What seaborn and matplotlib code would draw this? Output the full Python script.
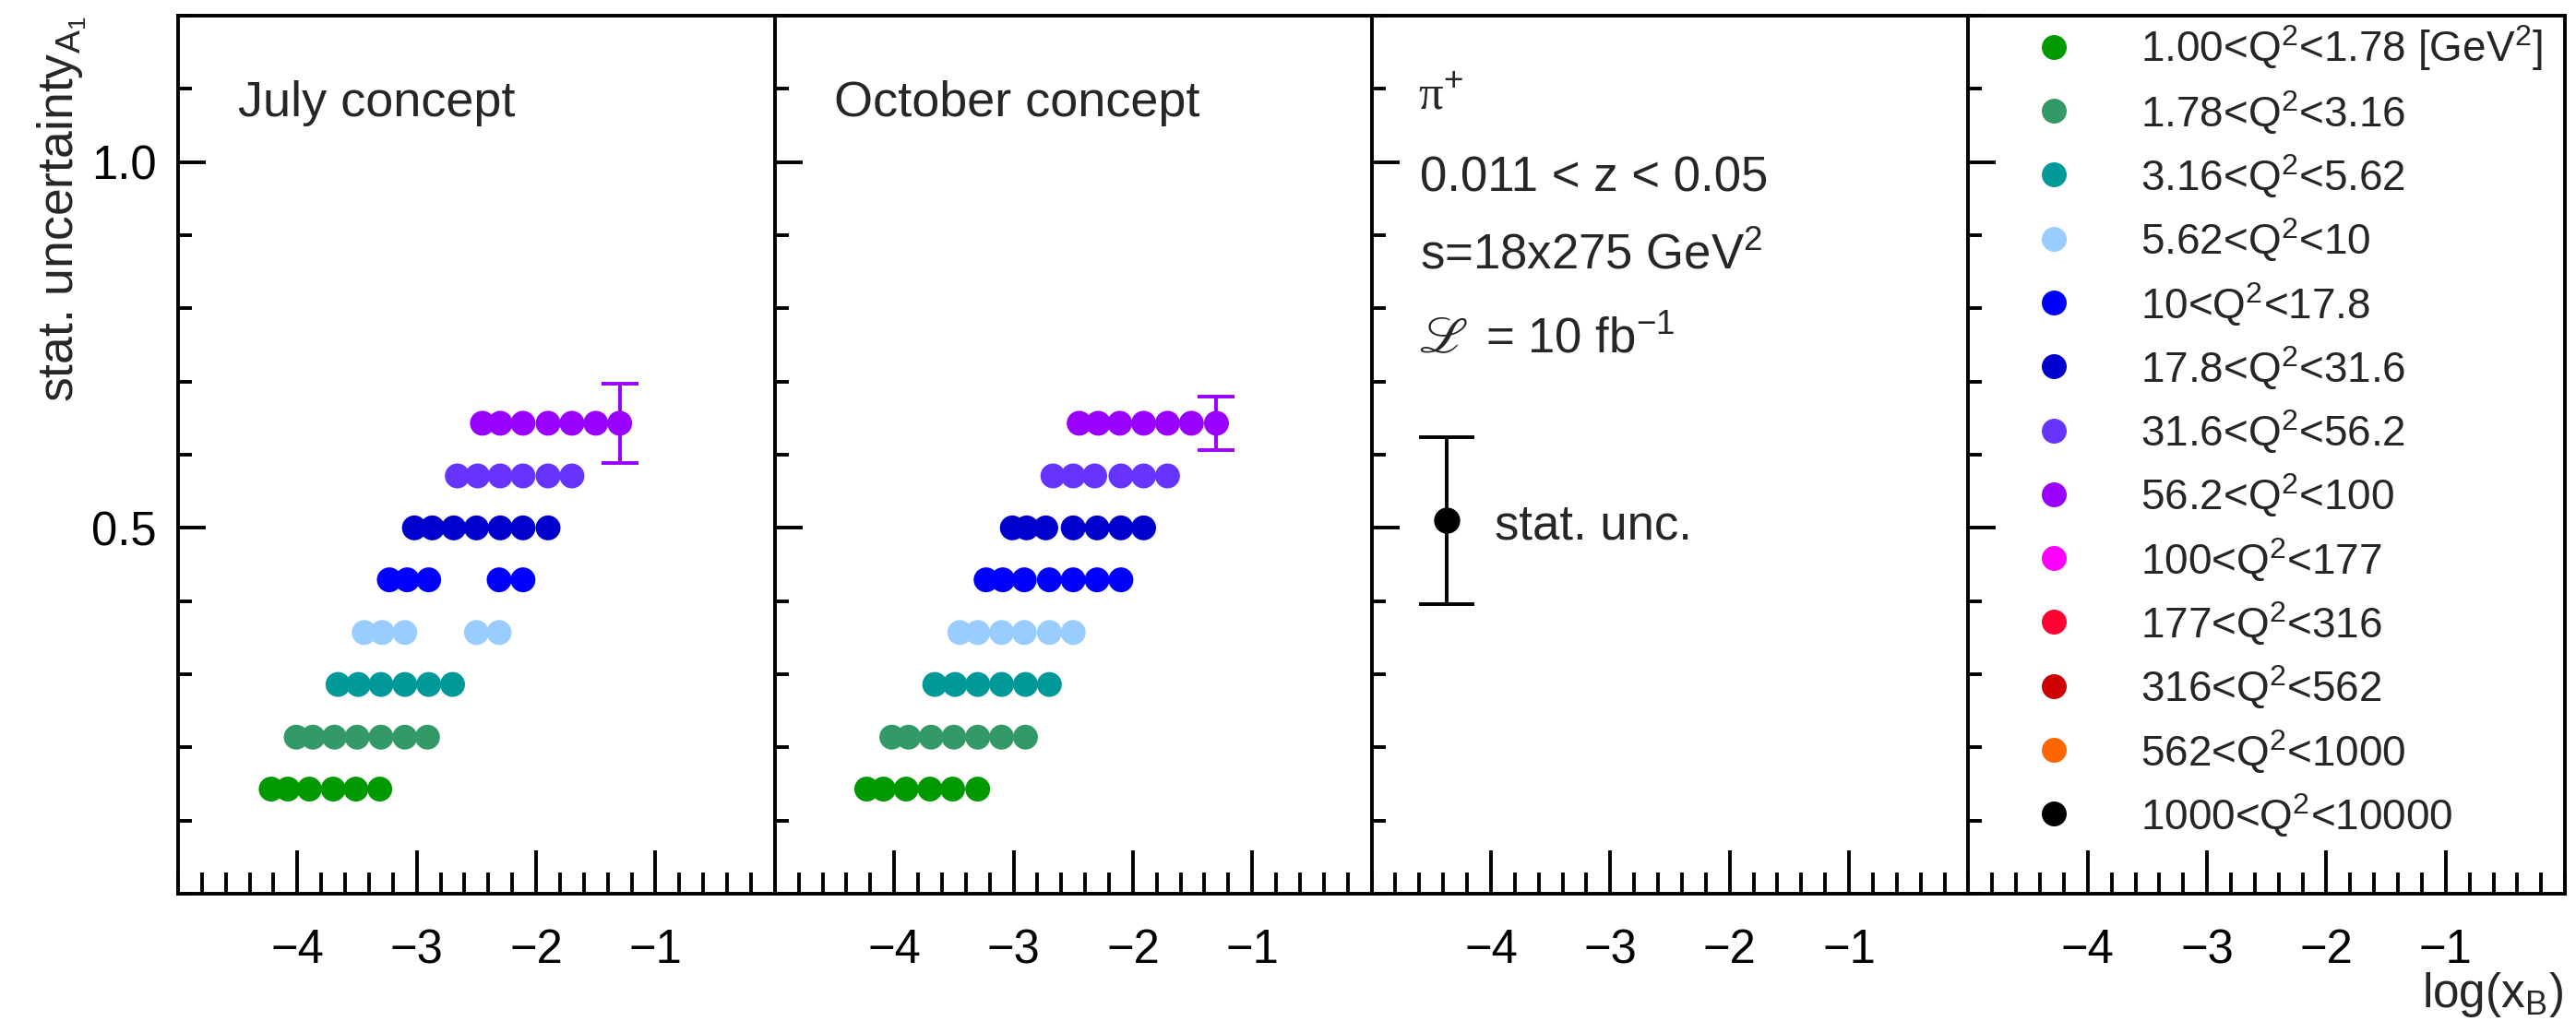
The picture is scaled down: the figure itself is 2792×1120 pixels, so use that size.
import pandas as pd
import matplotlib
matplotlib.use("Agg")
import matplotlib.pyplot as plt
from matplotlib.ticker import MultipleLocator, FixedLocator
import seaborn as sns

# Q^2 bins (legend)
q2_labels = [
    r"1.00<Q$^{2}$<1.78 [GeV$^{2}$]",
    r"1.78<Q$^{2}$<3.16",
    r"3.16<Q$^{2}$<5.62",
    r"5.62<Q$^{2}$<10",
    r"10<Q$^{2}$<17.8",
    r"17.8<Q$^{2}$<31.6",
    r"31.6<Q$^{2}$<56.2",
    r"56.2<Q$^{2}$<100",
    r"100<Q$^{2}$<177",
    r"177<Q$^{2}$<316",
    r"316<Q$^{2}$<562",
    r"562<Q$^{2}$<1000",
    r"1000<Q$^{2}$<10000",
]
q2_colors = ["#009900", "#339966", "#009999", "#99ccff", "#0000ff", "#0000cc",
             "#6633ff", "#9900ff", "#ff00ff", "#ff0033", "#cc0000", "#ff6600", "#000000"]

# vertical offset of each Q^2 row
row_y = [0.143, 0.214, 0.286, 0.357, 0.429, 0.500, 0.571, 0.643]

# log(x_B) bin centres per Q^2 row
july_x = [
    [-4.22, -4.08, -3.90, -3.70, -3.51, -3.31],
    [-4.01, -3.87, -3.69, -3.50, -3.30, -3.10, -2.91],
    [-3.66, -3.49, -3.30, -3.10, -2.90, -2.70],
    [-3.44, -3.29, -3.10, -2.50, -2.31],
    [-3.23, -3.08, -2.90, -2.31, -2.11],
    [-3.02, -2.87, -2.69, -2.50, -2.30, -2.11, -1.90],
    [-2.66, -2.49, -2.30, -2.11, -1.90, -1.70],
    [-2.45, -2.30, -2.11, -1.90, -1.70, -1.50, -1.30],
]
october_x = [
    [-4.23, -4.09, -3.90, -3.70, -3.51, -3.30],
    [-4.02, -3.88, -3.69, -3.50, -3.30, -3.10, -2.90],
    [-3.66, -3.49, -3.30, -3.10, -2.90, -2.70],
    [-3.45, -3.30, -3.10, -2.91, -2.70, -2.50],
    [-3.23, -3.09, -2.91, -2.70, -2.50, -2.30, -2.10],
    [-3.01, -2.89, -2.73, -2.50, -2.30, -2.10, -1.91],
    [-2.67, -2.50, -2.32, -2.10, -1.91, -1.71],
    [-2.45, -2.29, -2.11, -1.91, -1.71, -1.51, -1.30],
]

# stat. uncertainty shown on the last point
july_err = 0.054
october_err = 0.037

# example error bar in the info panel
legend_err_x = -4.37
legend_err_y = 0.51
legend_err = 0.114

panel_titles = ["July concept", "October concept"]


def make_frame(xs):
    rows = []
    for i, xrow in enumerate(xs):
        for x in xrow:
            rows.append({"x": x, "y": row_y[i], "bin": q2_labels[i]})
    return pd.DataFrame(rows)


sns.set_theme(style="white")
plt.rcParams["font.family"] = ["Liberation Sans", "DejaVu Sans"]
plt.rcParams["mathtext.fontset"] = "custom"
plt.rcParams["mathtext.rm"] = "Liberation Sans"
plt.rcParams["mathtext.it"] = "Liberation Sans:italic"
plt.rcParams["mathtext.bf"] = "Liberation Sans:bold"

fig = plt.figure(figsize=(27.92, 11.2), dpi=100)
left, bottom, height = 193 / 2792, 151 / 1120, 952 / 1120
width = 646.8 / 2792
axes = [fig.add_axes([left + i * width, bottom, width, height]) for i in range(4)]

palette = dict(zip(q2_labels, q2_colors))
msize = 377

for i, ax in enumerate(axes):
    ax.set_xlim(-5, 0)
    ax.set_ylim(0, 1.2)
    ax.xaxis.set_major_locator(FixedLocator([-4, -3, -2, -1]))
    ax.xaxis.set_minor_locator(MultipleLocator(0.2))
    ax.yaxis.set_major_locator(FixedLocator([0.5, 1.0]))
    ax.yaxis.set_minor_locator(MultipleLocator(0.1))
    ax.tick_params(axis="both", which="both", direction="in", width=2.8, colors="black",
                   labelsize=36.5, bottom=True, left=True, top=False, right=False)
    ax.tick_params(axis="x", which="major", length=34, pad=27)
    ax.tick_params(axis="x", which="minor", length=16.5)
    ax.tick_params(axis="y", which="major", length=21.6, pad=17)
    ax.tick_params(axis="y", which="minor", length=10.8)
    if i > 0:
        ax.tick_params(axis="y", labelleft=False)
    else:
        ax.set_yticklabels(["0.5", "1.0"])
    for sp in ax.spines.values():
        sp.set_linewidth(2.8)
        sp.set_color("black")
    ax.set_xlabel("")
    ax.set_ylabel("")

# concept panels
for ax, xs, err, title in zip(axes[:2], [july_x, october_x], [july_err, october_err], panel_titles):
    df = make_frame(xs)
    ax.errorbar(xs[-1][-1], row_y[-1], yerr=err, fmt="none", ecolor=q2_colors[7],
                elinewidth=2.8, capsize=14.4, capthick=2.8, zorder=2)
    sns.scatterplot(data=df, x="x", y="y", hue="bin", palette=palette, s=msize,
                    linewidth=0, legend=False, ax=ax, zorder=3)
    ax.set_xlabel("")
    ax.set_ylabel("")
    ax.text(0.10, 0.8855, title, transform=ax.transAxes, fontsize=39, va="baseline")

# info panel
ax3 = axes[2]
ax3.text(0.078, 0.893, r"π$^{+}$", transform=ax3.transAxes, fontsize=38, va="baseline",
         family=["Liberation Serif", "DejaVu Serif"])
ax3.text(0.081, 0.800, "0.011 < z < 0.05", transform=ax3.transAxes, fontsize=38, va="baseline")
ax3.text(0.081, 0.7117, r"s=18x275 GeV$^{2}$", transform=ax3.transAxes, fontsize=38, va="baseline")
ax3.text(0.078, 0.616, r"$\mathscr{L}$", transform=ax3.transAxes, fontsize=40, va="baseline",
         math_fontfamily="stix")
ax3.text(0.191, 0.616, r"= 10 fb$^{-1}$", transform=ax3.transAxes, fontsize=38, va="baseline")
ax3.errorbar(legend_err_x, legend_err_y, yerr=legend_err, fmt="o", color="black",
             markersize=19.4, elinewidth=2.8, capsize=21.6, capthick=2.8)
ax3.text(0.206, 0.4044, "stat. unc.", transform=ax3.transAxes, fontsize=38, va="baseline")

# legend panel
ax4 = axes[3]
for k, (lab, col) in enumerate(zip(q2_labels, q2_colors)):
    yk = 0.9646 - k * 0.0728
    ax4.scatter([0.1424], [yk], transform=ax4.transAxes, s=msize, color=col, linewidth=0)
    ax4.text(0.2885, yk - 0.0174, lab, transform=ax4.transAxes, fontsize=33, va="baseline")

fig.text(80 / 2792, 1 - 17 / 1120, r"stat. uncertainty$_{\mathrm{A}_{1}}$", rotation=90,
         rotation_mode="anchor", ha="right", va="baseline", fontsize=38.5)
fig.text(2778 / 2792, 28 / 1120, r"log(x$_{\mathrm{B}}$)", ha="right", va="baseline", fontsize=37)

fig.savefig("out.png", dpi=100, facecolor="white")
